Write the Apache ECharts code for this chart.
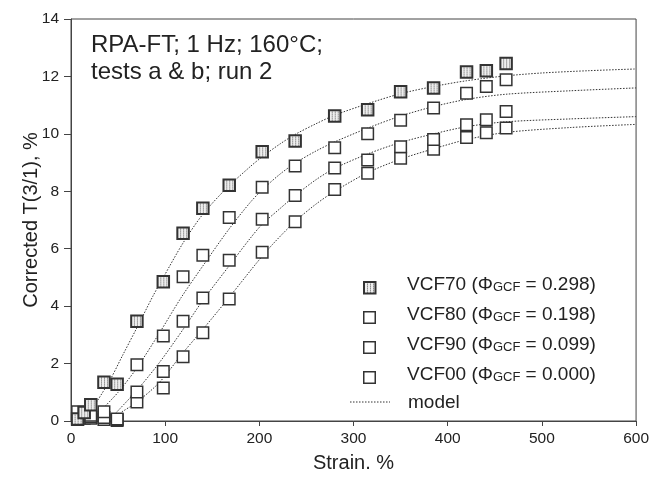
<!DOCTYPE html>
<html>
<head>
<meta charset="utf-8">
<script src="https://cdn.jsdelivr.net/npm/echarts@6/dist/echarts.min.js"></script>
<style>
html,body{margin:0;padding:0;background:#fff;}
#c{width:652px;height:478px;}
</style>
</head>
<body>
<div id="c"></div>
<script>
// ---- data ----
const strain = [7, 14, 21, 35, 49, 70, 98, 119, 140, 168, 203, 238, 280, 315, 350, 385, 420, 441, 462];
const vcf70 = [0.07, 0.3, 0.57, 1.35, 1.28, 3.47, 4.85, 6.54, 7.41, 8.21, 9.38, 9.75, 10.62, 10.84, 11.47, 11.6, 12.15, 12.2, 12.45];
const vcf80 = [0.32, 0.3, 0.2, 0.32, 0.07, 1.96, 2.96, 5.02, 5.77, 7.09, 8.14, 8.88, 9.52, 10.0, 10.47, 10.9, 11.41, 11.65, 11.88];
const vcf90 = [0.1, 0.2, 0.15, 0.12, 0.05, 1.01, 1.72, 3.47, 4.28, 5.6, 7.03, 7.85, 8.81, 9.09, 9.55, 9.8, 10.32, 10.49, 10.78];
const vcf00 = [0.05, 0.1, 0.1, 0.05, 0.02, 0.66, 1.15, 2.24, 3.07, 4.25, 5.88, 6.94, 8.06, 8.63, 9.15, 9.46, 9.87, 10.04, 10.2];

const model70 = [[25,0.55],[41,1.4],[55,2.3],[70,3.25],[87,4.35],[98,5.0],[119,6.2],[140,7.2],[165,8.1],[190,8.85],[203,9.2],[222,9.65],[238,9.98],[260,10.35],[280,10.65],[315,11.05],[350,11.4],[385,11.65],[420,11.85],[462,12.02],[500,12.12],[550,12.2],[600,12.26]];
const model80 = [[34,0.44],[50,1.0],[70,1.85],[94,3.07],[117,4.3],[140,5.4],[167,6.65],[190,7.6],[203,8.05],[222,8.6],[238,8.98],[260,9.4],[280,9.72],[315,10.2],[350,10.62],[385,10.95],[420,11.2],[462,11.38],[530,11.5],[600,11.6]];
const model90 = [[47,0.26],[70,1.07],[94,2.04],[119,3.19],[140,4.2],[169,5.45],[190,6.35],[203,6.85],[222,7.4],[238,7.85],[260,8.4],[280,8.8],[315,9.3],[350,9.7],[385,10.0],[420,10.25],[462,10.42],[530,10.52],[600,10.6]];
const model00 = [[54,0.32],[70,0.66],[94,1.35],[119,2.38],[140,3.19],[169,4.35],[197,5.5],[214,6.15],[238,6.95],[260,7.55],[280,8.0],[315,8.65],[350,9.12],[385,9.48],[420,9.8],[462,10.05],[530,10.22],[600,10.33]];

const xTicks = [0, 100, 200, 300, 400, 500, 600];
const yTicks = [0, 2, 4, 6, 8, 10, 12, 14];
const legendNames = ['VCF70', 'VCF80', 'VCF90', 'VCF00'];
const legendPhi = ['0.298', '0.198', '0.099', '0.000'];

// ---- hatched fill pattern ----
const pc = document.createElement('canvas');
pc.width = 3; pc.height = 2;
const g = pc.getContext('2d');
g.fillStyle = '#eeeeee'; g.fillRect(0, 0, 3, 2);
g.fillStyle = '#8e8e8e'; g.fillRect(0, 0, 1, 1);
g.fillStyle = '#b8b8b8'; g.fillRect(0, 1, 1, 1);
const SYM = 11.5;
const hatch = { image: pc, repeat: 'repeat' };
const hatchSym = { image: pc, repeat: 'repeat', scaleX: 2 / SYM, scaleY: 2 / SYM };

const FONT = 'Liberation Sans, Arial, sans-serif';
const chart = echarts.init(document.getElementById('c'), null, { renderer: 'canvas' });
const pairs = (ys) => strain.map((x, i) => [x, ys[i]]);
const edge = '#333';
const txt = '#222';

function scat(name, ys, fill, bw) {
  return {
    name: name, type: 'scatter', data: pairs(ys), symbol: 'rect', symbolSize: SYM,
    itemStyle: { color: fill, borderColor: edge, borderWidth: bw, opacity: 1 },
    z: 3, silent: true
  };
}
function model(d) {
  return {
    name: 'model', type: 'line', data: d, showSymbol: false, symbol: 'none', smooth: 0.3,
    lineStyle: { color: '#333', width: 1, type: [1.5, 1.5] }, z: 2, silent: true
  };
}

const legendTop = 287, legendStep = 30;
const graphics = [];
legendNames.forEach((n, i) => {
  const y = legendTop + i * legendStep;
  graphics.push({
    type: 'rect', left: 363, top: y - 6,
    shape: { width: SYM, height: SYM },
    style: { fill: i === 0 ? hatch : '#fff', stroke: edge, lineWidth: i === 0 ? 2 : 1.5 }
  });
  graphics.push({
    type: 'text', left: 407, top: y - 12,
    style: {
      text: '{a|' + n + ' (Φ}{s|GCF}{a| = ' + legendPhi[i] + ')}',
      rich: {
        a: { fontFamily: FONT, fontSize: 19, fill: txt, verticalAlign: 'bottom', lineHeight: 24 },
        s: { fontFamily: FONT, fontSize: 13, fill: txt, verticalAlign: 'bottom', lineHeight: 22 }
      }
    }
  });
});
graphics.push({
  type: 'line', shape: { x1: 350, y1: 402, x2: 390, y2: 402 },
  style: { stroke: '#333', lineWidth: 1, lineDash: [1.5, 1.5] }
});
graphics.push({
  type: 'text', left: 408, top: 393,
  style: { text: 'model', fontFamily: FONT, fontSize: 19, fill: txt }
});
graphics.push({
  type: 'text', left: 91, top: 32,
  style: { text: 'RPA-FT; 1 Hz; 160°C;\ntests a & b; run 2', fontFamily: FONT, fontSize: 24, lineHeight: 27, fill: txt }
});

chart.setOption({
  animation: false,
  backgroundColor: '#fff',
  grid: { left: 71, right: 15, top: 19, bottom: 52, show: true, borderColor: '#444', borderWidth: 1, backgroundColor: 'transparent' },
  xAxis: {
    type: 'value', min: xTicks[0], max: xTicks[xTicks.length - 1], interval: 100,
    name: 'Strain. %', nameLocation: 'middle', nameGap: 32, nameMoveOverlap: false,
    nameTextStyle: { fontFamily: FONT, fontSize: 20, color: txt },
    axisLine: { lineStyle: { color: '#444', width: 1 } },
    axisTick: { show: true, inside: false, length: 5, lineStyle: { color: '#444' } },
    axisLabel: { fontFamily: FONT, fontSize: 15.5, color: txt, margin: 10 },
    splitLine: { show: false }
  },
  yAxis: {
    type: 'value', min: yTicks[0], max: yTicks[yTicks.length - 1], interval: 2,
    name: 'Corrected T(3/1), %', nameLocation: 'middle', nameGap: 30, nameMoveOverlap: false,
    nameTextStyle: { fontFamily: FONT, fontSize: 20, color: txt },
    axisLine: { show: true, lineStyle: { color: '#444', width: 1 } },
    axisTick: { show: true, inside: false, length: 7, lineStyle: { color: '#444' } },
    axisLabel: { fontFamily: FONT, fontSize: 15.5, color: txt, margin: 12 },
    splitLine: { show: false }
  },
  graphic: graphics,
  series: [
    model(model70), model(model80), model(model90), model(model00),
    scat('VCF00', vcf00, '#fff', 1.5),
    scat('VCF90', vcf90, '#fff', 1.5),
    scat('VCF80', vcf80, '#fff', 1.5),
    scat('VCF70', vcf70, hatchSym, 2)
  ]
});
</script>
</body>
</html>
